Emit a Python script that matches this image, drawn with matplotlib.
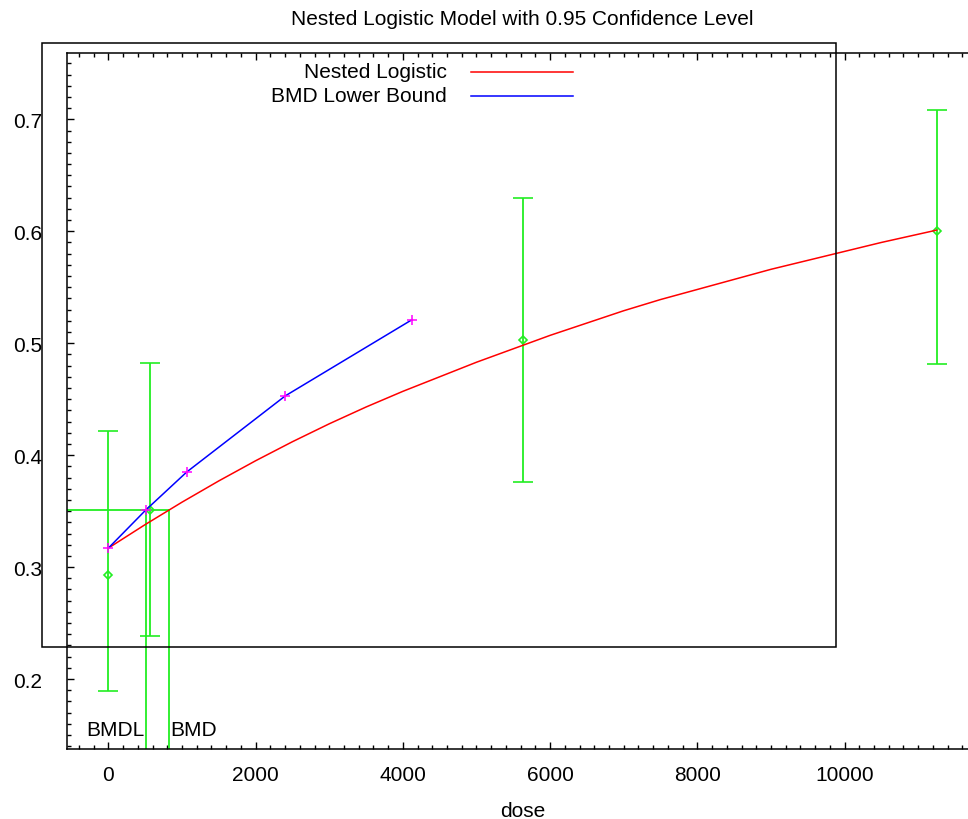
import matplotlib
matplotlib.use("Agg")
import matplotlib.pyplot as plt
from matplotlib.lines import Line2D
from matplotlib.patches import Rectangle
from matplotlib.ticker import MultipleLocator

plt.rcParams.update({
    "font.family": ["Liberation Sans", "DejaVu Sans"],
    "font.size": 15,
    "axes.titlesize": 15,
    "axes.labelsize": 15,
})

# observed group means with 95% confidence limits
dose = [0, 562, 5625, 11250]
mean = [0.293, 0.351, 0.503, 0.600]
lower = [0.189, 0.238, 0.376, 0.481]
upper = [0.422, 0.482, 0.630, 0.708]

# fitted nested logistic curve
fit_dose = [0, 500, 1000, 1500, 2000, 2500, 3000, 3500, 4000, 4500, 5000,
            5500, 6000, 6500, 7000, 7500, 8000, 8500, 9000, 9500, 10000,
            10500, 11250]
fit_resp = [0.317, 0.338, 0.358, 0.377, 0.395, 0.412, 0.428, 0.443, 0.457,
            0.470, 0.483, 0.495, 0.507, 0.518, 0.529, 0.539, 0.548, 0.557,
            0.566, 0.574, 0.582, 0.590, 0.601]

# BMD lower bound curve
bmdl_dose = [0, 508, 1065, 2404, 4124]
bmdl_resp = [0.317, 0.351, 0.385, 0.453, 0.521]

bmd = 824
bmdl = 508
bmr_level = 0.351

legend_labels = ["Nested Logistic", "BMD Lower Bound"]
green = "#22ee22"

W, H = 968, 820
fig = plt.figure(figsize=(W / 100, H / 100), dpi=100)
ax = fig.add_axes([67 / W, 1 - 750 / H, 911 / W, (750 - 53.7) / H])

ax.set_xlim(-562.5, 11812.5)
ax.set_ylim(0.1375, 0.7595)

# error bars and means
ax.errorbar(dose, mean,
            yerr=[[m - l for m, l in zip(mean, lower)],
                  [u - m for m, u in zip(mean, upper)]],
            fmt="D", ms=4.5, mfc="none", mec=green, mew=1.2,
            ecolor=green, elinewidth=1.3, capsize=7.5, capthick=1.3,
            zorder=3)

fit_line, = ax.plot(fit_dose, fit_resp, color="red", lw=1.1, zorder=4)
low_line, = ax.plot(bmdl_dose, bmdl_resp, color="blue", lw=1.1, zorder=4)
ax.plot(bmdl_dose, bmdl_resp, ls="none", marker="+", ms=6.5, mew=1.1,
        color="magenta", zorder=5)

# BMD / BMDL markers
y0 = ax.get_ylim()[0]
x0 = ax.get_xlim()[0]
ax.plot([x0, bmd], [bmr_level, bmr_level], color=green, lw=1.3, zorder=2)
ax.plot([bmdl, bmdl], [y0, bmr_level], color=green, lw=1.3, zorder=2)
ax.plot([bmd, bmd], [y0, bmr_level], color=green, lw=1.3, zorder=2)
ax.text(bmdl - 20, 0.1548, "BMDL", ha="right", va="center")
ax.text(bmd + 15, 0.1548, "BMD", ha="left", va="center")

ax.xaxis.set_major_locator(MultipleLocator(2000))
ax.xaxis.set_minor_locator(MultipleLocator(200))
ax.yaxis.set_major_locator(MultipleLocator(0.1))
ax.yaxis.set_minor_locator(MultipleLocator(0.01))
ax.tick_params(which="both", direction="in", top=True, right=True)
ax.tick_params(which="major", length=5.2, width=1)
ax.tick_params(which="minor", length=3, width=1)
ax.tick_params(axis="y", which="major", pad=18)
ax.tick_params(axis="x", which="major", pad=11.5)
for s in ax.spines.values():
    s.set_linewidth(1.1)

ax.set_xlabel("dose", labelpad=12.5)
ax.set_title("Nested Logistic Model with 0.95 Confidence Level", pad=20.5)

# legend drawn by hand, gnuplot style (text right-aligned before the sample)
for i, (lab, ln) in enumerate(zip(legend_labels, [fit_line, low_line])):
    yy = 1 - (72.7 + 24 * i) / H
    fig.text(447 / W, yy, lab, ha="right", va="center")
    fig.add_artist(Line2D([471 / W, 573 / W], [yy, yy], color=ln.get_color(),
                          lw=1.1, transform=fig.transFigure))

# stray frame box from the original plot
fig.add_artist(Rectangle((42 / W, 1 - 648 / H), (836 - 42) / W,
                         (648 - 44.3) / H, fill=False, ec="black", lw=1.1,
                         transform=fig.transFigure, zorder=10))

fig.savefig("out.png", dpi=100)
